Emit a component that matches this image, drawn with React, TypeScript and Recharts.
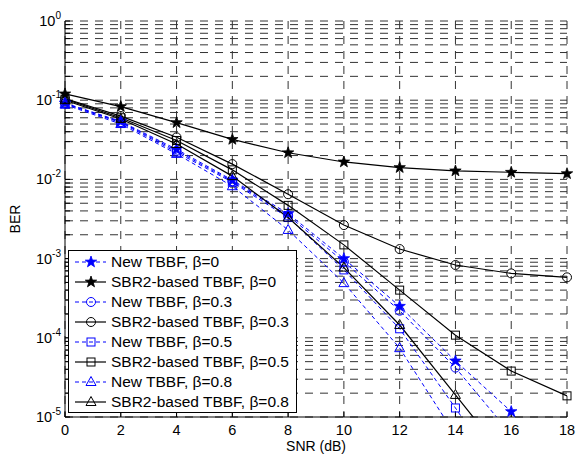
import React from "react";
import { CartesianGrid, ComposedChart, Line, Scatter, XAxis, YAxis } from "recharts";

// SNR points (dB)
const snr = [0, 2, 4, 6, 8, 10, 12, 14, 16, 18];

// BER values
const newB0 = [0.092, 0.054, 0.024, 0.0098, 0.0037, 0.001, 0.00025, 0.000051, 0.0000117, 0.0000012];
const sbrB0 = [0.12, 0.083, 0.052, 0.032, 0.0217, 0.0166, 0.0141, 0.0128, 0.0123, 0.0118];
const newB03 = [0.091, 0.053, 0.023, 0.0095, 0.0035, 0.00091, 0.00022, 0.000042, 0.000006, 0.0000008];
const sbrB03 = [0.105, 0.063, 0.034, 0.0156, 0.0065, 0.00265, 0.00132, 0.00083, 0.00065, 0.00058];
const newB05 = [0.09, 0.052, 0.022, 0.0092, 0.0033, 0.00072, 0.00013, 0.000013, 0.0000012, 0.0000001];
const sbrB05 = [0.103, 0.06, 0.031, 0.0132, 0.0047, 0.00149, 0.0004, 0.000108, 0.000038, 0.0000185];
const newB08 = [0.088, 0.05, 0.021, 0.0082, 0.0023, 0.00049, 0.000074, 0.0000059, 0.0000005, 0.00000004];
const sbrB08 = [0.1, 0.058, 0.028, 0.011, 0.0033, 0.00077, 0.000145, 0.000019, 0.0000025, 0.0000003];

const xTicks = [0, 2, 4, 6, 8, 10, 12, 14, 16, 18];
const decades = [-5, -4, -3, -2, -1];
const yTicks = [...decades.flatMap((e) => [1, 2, 3, 4, 5, 6, 7, 8, 9].map((m) => m * Math.pow(10, e))), 1];

const BLUE = "#0000ff";
const FONT = "'Liberation Sans', Arial, Helvetica, sans-serif";
const Y_MIN = 1e-5;

type Kind = "star" | "circle" | "square" | "triangle";

const series: { key: string; name: string; values: number[]; color: string; dashed: boolean; kind: Kind }[] = [
  { key: "newB0", name: "New TBBF, β=0", values: newB0, color: BLUE, dashed: true, kind: "star" },
  { key: "sbrB0", name: "SBR2-based TBBF, β=0", values: sbrB0, color: "#000", dashed: false, kind: "star" },
  { key: "newB03", name: "New TBBF, β=0.3", values: newB03, color: BLUE, dashed: true, kind: "circle" },
  { key: "sbrB03", name: "SBR2-based TBBF, β=0.3", values: sbrB03, color: "#000", dashed: false, kind: "circle" },
  { key: "newB05", name: "New TBBF, β=0.5", values: newB05, color: BLUE, dashed: true, kind: "square" },
  { key: "sbrB05", name: "SBR2-based TBBF, β=0.5", values: sbrB05, color: "#000", dashed: false, kind: "square" },
  { key: "newB08", name: "New TBBF, β=0.8", values: newB08, color: BLUE, dashed: true, kind: "triangle" },
  { key: "sbrB08", name: "SBR2-based TBBF, β=0.8", values: sbrB08, color: "#000", dashed: false, kind: "triangle" },
];

const rows = snr.map((s, i) => {
  const r: Record<string, number> = { snr: s };
  series.forEach((sr) => (r[sr.key] = sr.values[i]));
  return r;
});

function Marker({ kind, cx, cy, color }: { kind: Kind; cx: number; cy: number; color: string }) {
  if (cx == null || cy == null || isNaN(cx) || isNaN(cy)) return null;
  if (kind === "star") {
    const pts: string[] = [];
    for (let i = 0; i < 10; i++) {
      const r = i % 2 === 0 ? 6 : 2.4;
      const a = -Math.PI / 2 + (i * Math.PI) / 5;
      pts.push(`${cx + r * Math.cos(a)},${cy + r * Math.sin(a)}`);
    }
    return <polygon points={pts.join(" ")} fill={color} stroke={color} strokeWidth={0.8} />;
  }
  if (kind === "circle") return <circle cx={cx} cy={cy} r={4.5} fill="none" stroke={color} strokeWidth={1} />;
  if (kind === "square")
    return <rect x={cx - 4} y={cy - 4} width={8} height={8} fill="none" stroke={color} strokeWidth={1} />;
  return (
    <polygon
      points={`${cx},${cy - 5.5} ${cx - 5},${cy + 3.5} ${cx + 5},${cy + 3.5}`}
      fill="none"
      stroke={color}
      strokeWidth={1}
    />
  );
}

const YTick = ({ y, payload }: any) => {
  const v = payload.value;
  const e = Math.round(Math.log10(v));
  if (Math.abs(Math.log10(v) - e) > 1e-6) return <g />;
  return (
    <text x={61} y={y + 5} textAnchor="end" fontSize={14.5} fontFamily={FONT} fill="#000">
      <tspan>10</tspan>
      <tspan dy={-7} fontSize={10}>
        {e}
      </tspan>
    </text>
  );
};

const XTick = ({ x, payload }: any) => (
  <text x={x} y={435} textAnchor="middle" fontSize={14.5} fontFamily={FONT} fill="#000">
    {payload.value}
  </text>
);

const NoTick = () => <g />;

export default function App() {
  return (
    <div style={{ position: "absolute", left: 0, top: 0, width: 582, height: 454, background: "#fff" }}>
      <ComposedChart
        width={582}
        height={454}
        data={rows}
        margin={{ top: 21, right: 15, left: 65, bottom: 37 }}
      >
        <CartesianGrid stroke="#333" strokeDasharray="8 7" strokeWidth={1} />
        <XAxis
          type="number"
          dataKey="snr"
          domain={[0, 18]}
          ticks={xTicks}
          interval={0}
          height={37}
          mirror
          tickSize={5}
          tickLine={{ stroke: "#000" }}
          tick={<XTick />}
          axisLine={{ stroke: "#000" }}
          label={({ viewBox }: any) => (
            <text
              x={viewBox.x + viewBox.width / 2}
              y={451}
              textAnchor="middle"
              fontSize={14}
              fontFamily={FONT}
              fill="#000"
            >
              SNR (dB)
            </text>
          )}
        />
        <XAxis
          xAxisId="top"
          orientation="top"
          type="number"
          domain={[0, 18]}
          ticks={xTicks}
          interval={0}
          height={0}
          mirror
          tickSize={5}
          tick={<NoTick />}
          tickLine={{ stroke: "#000" }}
          axisLine={{ stroke: "#000" }}
        />
        <YAxis
          type="number"
          scale="log"
          domain={[Y_MIN, 1]}
          allowDataOverflow
          ticks={yTicks}
          interval={0}
          width={65}
          mirror
          tickSize={5}
          tickLine={{ stroke: "#000" }}
          tick={<YTick />}
          axisLine={{ stroke: "#000" }}
          label={() => (
            <text
              x={20}
              y={219}
              transform="rotate(-90 20 219)"
              textAnchor="middle"
              fontSize={14}
              fontFamily={FONT}
              fill="#000"
            >
              BER
            </text>
          )}
        />
        <YAxis yAxisId="m" type="number" scale="log" domain={[Y_MIN, 1]} hide />
        <YAxis
          yAxisId="r"
          orientation="right"
          type="number"
          scale="log"
          domain={[Y_MIN, 1]}
          allowDataOverflow
          ticks={yTicks}
          interval={0}
          width={0}
          mirror
          tickSize={5}
          tick={<NoTick />}
          tickLine={{ stroke: "#000" }}
          axisLine={{ stroke: "#000" }}
        />

        {series.map((s) => (
          <Line
            key={s.key}
            dataKey={s.key}
            stroke={s.color}
            strokeWidth={s.dashed ? 1 : 1.2}
            strokeDasharray={s.dashed ? "4 3" : undefined}
            dot={false}
            activeDot={false}
            isAnimationActive={false}
          />
        ))}
        {series.map((s) => (
          <Scatter
            key={s.key + "-m"}
            yAxisId="m"
            dataKey="ber"
            data={snr.map((x, i) => ({ snr: x, ber: s.values[i] })).filter((p) => p.ber >= Y_MIN)}
            isAnimationActive={false}
            shape={(p: any) => <Marker kind={s.kind} cx={p.cx} cy={p.cy} color={s.color} />}
          />
        ))}
      </ComposedChart>

      <div
        style={{
          position: "absolute",
          left: 68,
          top: 250,
          width: 229,
          height: 163,
          boxSizing: "border-box",
          border: "1px solid #000",
          background: "#fff",
          paddingTop: 1,
          fontFamily: FONT,
          fontSize: 15.5,
          color: "#000",
        }}
      >
        {series.map((s) => (
          <div key={s.key} style={{ display: "flex", alignItems: "center", height: 20 }}>
            <svg width={42} height={20} style={{ flex: "none" }}>
              <line
                x1={6}
                x2={37}
                y1={10}
                y2={10}
                stroke={s.color}
                strokeWidth={s.dashed ? 1 : 1.2}
                strokeDasharray={s.dashed ? "4 3" : undefined}
              />
              <Marker kind={s.kind} cx={22} cy={10} color={s.color} />
            </svg>
            <span style={{ whiteSpace: "nowrap" }}>{s.name}</span>
          </div>
        ))}
      </div>
    </div>
  );
}
